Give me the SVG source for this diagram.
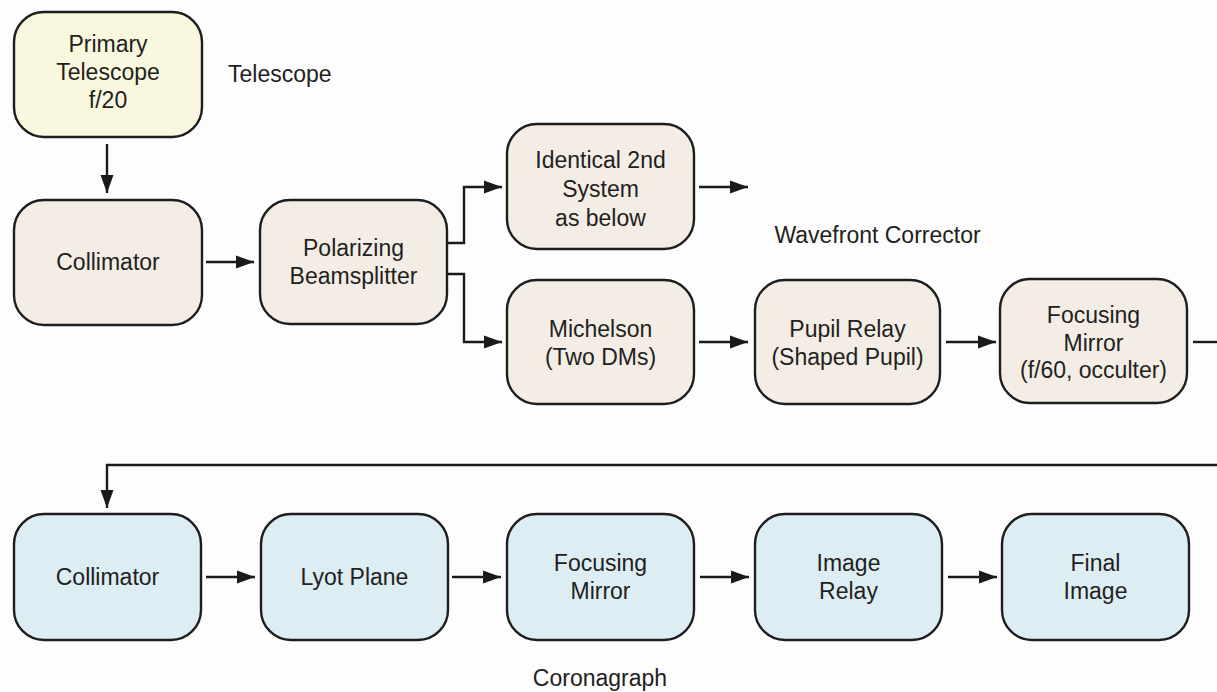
<svg xmlns="http://www.w3.org/2000/svg" width="1217" height="692" viewBox="0 0 1217 692">
<defs>
<marker id="ah" markerUnits="userSpaceOnUse" markerWidth="19" markerHeight="14" refX="18" refY="7" orient="auto">
<path d="M0,0.5 L18,7 L0,13.5 Z" fill="#1a1a1a"/>
</marker>
<style>
.box{stroke:#1e1e1e;stroke-width:2.4}
.y{fill:#f9f7de}
.b{fill:#f4ede6}
.c{fill:#dcedf4}
text{font-family:"Liberation Sans",Arial,sans-serif;font-size:23px;fill:#231f20}
.m{text-anchor:middle}
.cn path,.cn line{stroke:#1a1a1a;stroke-width:2.4;fill:none}
</style>
</defs>
<rect width="1217" height="692" fill="#fdfdfd"/>

<g id="primary"><rect class="box y" x="14" y="12" width="188" height="125" rx="30"/>
<text class="m" x="108" y="52">Primary</text><text class="m" x="108" y="80">Telescope</text><text class="m" x="108" y="108">f/20</text></g>
<g id="collimator1"><rect class="box b" x="14" y="200" width="188" height="125" rx="30"/>
<text class="m" x="108" y="270">Collimator</text></g>
<g id="polarizing"><rect class="box b" x="260" y="200" width="187" height="124" rx="30"/>
<text class="m" x="353.5" y="256">Polarizing</text><text class="m" x="353.5" y="284">Beamsplitter</text></g>
<g id="identical"><rect class="box b" x="507" y="124" width="187" height="125" rx="30"/>
<text class="m" x="600.5" y="168">Identical 2nd</text><text class="m" x="600.5" y="197">System</text><text class="m" x="600.5" y="226">as below</text></g>
<g id="michelson"><rect class="box b" x="507" y="280" width="187" height="124" rx="30"/>
<text class="m" x="600.5" y="337">Michelson</text><text class="m" x="600.5" y="365">(Two DMs)</text></g>
<g id="pupil"><rect class="box b" x="755" y="280" width="185" height="124" rx="30"/>
<text class="m" x="847.5" y="337">Pupil Relay</text><text class="m" x="847.5" y="365">(Shaped Pupil)</text></g>
<g id="focusing1"><rect class="box b" x="1000" y="279" width="187" height="124" rx="30"/>
<text class="m" x="1093.5" y="323">Focusing</text><text class="m" x="1093.5" y="351">Mirror</text><text class="m" x="1093.5" y="378">(f/60, occulter)</text></g>

<g id="collimator2"><rect class="box c" x="14" y="514" width="187" height="126" rx="30"/>
<text class="m" x="107.5" y="585">Collimator</text></g>
<g id="lyot"><rect class="box c" x="261" y="514" width="187" height="126" rx="30"/>
<text class="m" x="354.5" y="585">Lyot Plane</text></g>
<g id="focusing2"><rect class="box c" x="507" y="514" width="187" height="126" rx="30"/>
<text class="m" x="600.5" y="571">Focusing</text><text class="m" x="600.5" y="599">Mirror</text></g>
<g id="imagerelay"><rect class="box c" x="755" y="514" width="187" height="126" rx="30"/>
<text class="m" x="848.5" y="571">Image</text><text class="m" x="848.5" y="599">Relay</text></g>
<g id="final"><rect class="box c" x="1002" y="514" width="187" height="126" rx="30"/>
<text class="m" x="1095.5" y="571">Final</text><text class="m" x="1095.5" y="599">Image</text></g>

<g id="labels">
<text x="228" y="82">Telescope</text>
<text class="m" x="877.5" y="243">Wavefront Corrector</text>
<text class="m" x="600" y="686">Coronagraph</text>
</g>

<g id="connectors" class="cn">
<line x1="107" y1="144" x2="107" y2="193" marker-end="url(#ah)"/>
<line x1="206" y1="262" x2="254" y2="262" marker-end="url(#ah)"/>
<path d="M448,243 H464 V187 H502" marker-end="url(#ah)"/>
<path d="M448,274 H464 V342 H502" marker-end="url(#ah)"/>
<line x1="699" y1="187" x2="748" y2="187" marker-end="url(#ah)"/>
<line x1="699" y1="342" x2="748" y2="342" marker-end="url(#ah)"/>
<line x1="946" y1="342" x2="996" y2="342" marker-end="url(#ah)"/>
<line x1="1193" y1="342" x2="1217" y2="342"/>
<path d="M1217,465 H107 V508" marker-end="url(#ah)"/>
<line x1="206" y1="577" x2="255" y2="577" marker-end="url(#ah)"/>
<line x1="452" y1="577" x2="501" y2="577" marker-end="url(#ah)"/>
<line x1="700" y1="577" x2="749" y2="577" marker-end="url(#ah)"/>
<line x1="948" y1="577" x2="997" y2="577" marker-end="url(#ah)"/>
</g>
</svg>
